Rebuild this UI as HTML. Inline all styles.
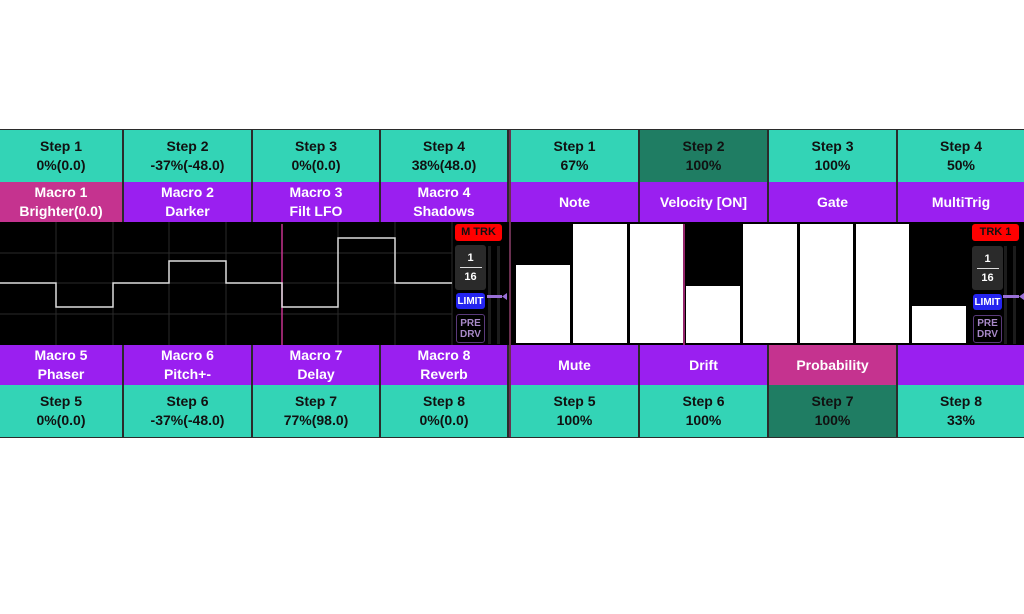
<!DOCTYPE html>
<html><head><meta charset="utf-8"><style>
body{margin:0;width:1024px;height:614px;background:#fff;position:relative;overflow:hidden;font-family:"Liberation Sans",sans-serif;font-weight:bold}
.c{position:absolute;box-sizing:border-box;display:flex;flex-direction:column;align-items:center;justify-content:center;text-align:center;font-size:14px;line-height:19px;border-right:2px solid #2b2b2b}
.t{background:#33d4b6;color:#111}
.d{background:#1f7d63;color:#111}
.p{background:#9a1ff0;color:#fff}
.k{background:#c5338f;color:#fff}
.a{position:absolute}
.btn{position:absolute;border-radius:3px;display:flex;align-items:center;justify-content:center;text-align:center;font-size:10px;line-height:11px}
</style></head><body>
<div class="a" style="left:0;top:129px;width:1024px;height:309px;background:#2b2b2b"></div>
<!-- Left panel -->
<div class="c t" style="left:0;top:130px;width:124px;height:52px">Step 1<br>0%(0.0)</div>
<div class="c t" style="left:124px;top:130px;width:129px;height:52px">Step 2<br>-37%(-48.0)</div>
<div class="c t" style="left:253px;top:130px;width:128px;height:52px">Step 3<br>0%(0.0)</div>
<div class="c t" style="left:381px;top:130px;width:128px;height:52px">Step 4<br>38%(48.0)</div>
<div class="c k" style="left:0;top:182px;width:124px;height:40px">Macro 1<br>Brighter(0.0)</div>
<div class="c p" style="left:124px;top:182px;width:129px;height:40px">Macro 2<br>Darker</div>
<div class="c p" style="left:253px;top:182px;width:128px;height:40px">Macro 3<br>Filt LFO</div>
<div class="c p" style="left:381px;top:182px;width:128px;height:40px">Macro 4<br>Shadows</div>
<div class="c p" style="left:0;top:345px;width:124px;height:40px">Macro 5<br>Phaser</div>
<div class="c p" style="left:124px;top:345px;width:129px;height:40px">Macro 6<br>Pitch+-</div>
<div class="c p" style="left:253px;top:345px;width:128px;height:40px">Macro 7<br>Delay</div>
<div class="c p" style="left:381px;top:345px;width:128px;height:40px">Macro 8<br>Reverb</div>
<div class="c t" style="left:0;top:385px;width:124px;height:52px">Step 5<br>0%(0.0)</div>
<div class="c t" style="left:124px;top:385px;width:129px;height:52px">Step 6<br>-37%(-48.0)</div>
<div class="c t" style="left:253px;top:385px;width:128px;height:52px">Step 7<br>77%(98.0)</div>
<div class="c t" style="left:381px;top:385px;width:128px;height:52px">Step 8<br>0%(0.0)</div>
<svg class="a" style="left:0;top:222px" width="509" height="123">
<rect width="509" height="123" fill="#000"/>
<g stroke="#2a2a2a" stroke-width="1">
<line x1="56" y1="0" x2="56" y2="123"/><line x1="113" y1="0" x2="113" y2="123"/><line x1="169" y1="0" x2="169" y2="123"/><line x1="226" y1="0" x2="226" y2="123"/><line x1="338" y1="0" x2="338" y2="123"/><line x1="395" y1="0" x2="395" y2="123"/><line x1="452" y1="0" x2="452" y2="123"/>
<line x1="0" y1="31" x2="452" y2="31"/><line x1="0" y1="61" x2="452" y2="61"/><line x1="0" y1="92" x2="452" y2="92"/>
</g>
<line x1="282" y1="2" x2="282" y2="123" stroke="#c5338f" stroke-width="1.5"/>
<polyline fill="none" stroke="#ddd" stroke-width="1.5" points="0,61 56,61 56,85 113,85 113,61 169,61 169,39 226,39 226,61 282,61 282,85 338,85 338,16 395,16 395,61 452,61"/>
<rect x="488" y="24" width="3" height="98" fill="#1c1c1c"/><rect x="497" y="24" width="3" height="98" fill="#1c1c1c"/>
<rect x="487" y="73" width="15" height="3" fill="#9a70d8"/><polygon points="502,74.5 507,71 507,78" fill="#9a70d8"/>
</svg>
<div class="btn" style="left:455px;top:224px;width:47px;height:17px;background:#f00;color:#111;font-size:11px">M TRK</div>
<div class="btn" style="left:455px;top:245px;width:31px;height:45px;background:#2a2a2a;color:#fff;flex-direction:column;font-size:11px;line-height:14px"><span>1</span><span style="display:block;width:22px;border-top:1px solid #ddd;margin:2px 0"></span><span>16</span></div>
<div class="btn" style="left:456px;top:293px;width:29px;height:16px;background:#2424f0;color:#fff">LIMIT</div>
<div class="btn" style="left:456px;top:314px;width:29px;height:29px;border:1px solid #5a3a7a;box-sizing:border-box;color:#a889c8">PRE<br>DRV</div>
<div class="a" style="left:509px;top:130px;width:2px;height:307px;background:#6a3050"></div>
<!-- Right panel -->
<div class="c t" style="left:511px;top:130px;width:129px;height:52px">Step 1<br>67%</div>
<div class="c d" style="left:640px;top:130px;width:129px;height:52px">Step 2<br>100%</div>
<div class="c t" style="left:769px;top:130px;width:129px;height:52px">Step 3<br>100%</div>
<div class="c t" style="left:898px;top:130px;width:126px;height:52px;border-right:0">Step 4<br>50%</div>
<div class="c p" style="left:511px;top:182px;width:129px;height:40px">Note</div>
<div class="c p" style="left:640px;top:182px;width:129px;height:40px">Velocity [ON]</div>
<div class="c p" style="left:769px;top:182px;width:129px;height:40px">Gate</div>
<div class="c p" style="left:898px;top:182px;width:126px;height:40px;border-right:0">MultiTrig</div>
<div class="c p" style="left:511px;top:345px;width:129px;height:40px">Mute</div>
<div class="c p" style="left:640px;top:345px;width:129px;height:40px">Drift</div>
<div class="c k" style="left:769px;top:345px;width:129px;height:40px">Probability</div>
<div class="c p" style="left:898px;top:345px;width:126px;height:40px;border-right:0"></div>
<div class="c t" style="left:511px;top:385px;width:129px;height:52px">Step 5<br>100%</div>
<div class="c t" style="left:640px;top:385px;width:129px;height:52px">Step 6<br>100%</div>
<div class="c d" style="left:769px;top:385px;width:129px;height:52px">Step 7<br>100%</div>
<div class="c t" style="left:898px;top:385px;width:126px;height:52px;border-right:0">Step 8<br>33%</div>
<svg class="a" style="left:511px;top:222px" width="513" height="123">
<rect width="513" height="123" fill="#000"/>
<g fill="#fff">
<rect x="5" y="43" width="54" height="78"/>
<rect x="62" y="2" width="54" height="119"/>
<rect x="119" y="2" width="53" height="119"/>
<rect x="175" y="64" width="54" height="57"/>
<rect x="232" y="2" width="54" height="119"/>
<rect x="289" y="2" width="53" height="119"/>
<rect x="345" y="2" width="53" height="119"/>
<rect x="401" y="84" width="54" height="37"/>
</g>
<line x1="173" y1="2" x2="173" y2="123" stroke="#c5338f" stroke-width="1.5"/>
<rect x="493" y="24" width="3" height="98" fill="#1c1c1c"/><rect x="502" y="24" width="3" height="98" fill="#1c1c1c"/>
<rect x="492" y="73" width="16" height="3" fill="#9a70d8"/><polygon points="508,74.5 513,71 513,78" fill="#9a70d8"/>
</svg>
<div class="btn" style="left:972px;top:224px;width:47px;height:17px;background:#f00;color:#111;font-size:11px">TRK 1</div>
<div class="btn" style="left:972px;top:246px;width:31px;height:44px;background:#2a2a2a;color:#fff;flex-direction:column;font-size:11px;line-height:14px"><span>1</span><span style="display:block;width:22px;border-top:1px solid #ddd;margin:2px 0"></span><span>16</span></div>
<div class="btn" style="left:973px;top:294px;width:29px;height:16px;background:#2424f0;color:#fff">LIMIT</div>
<div class="btn" style="left:973px;top:315px;width:29px;height:28px;border:1px solid #5a3a7a;box-sizing:border-box;color:#a889c8">PRE<br>DRV</div>
</body></html>
